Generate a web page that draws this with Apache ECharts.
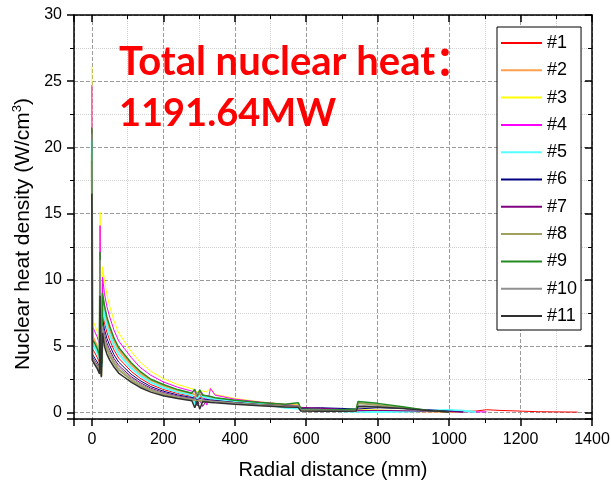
<!DOCTYPE html>
<html>
<head>
<meta charset="utf-8">
<script src="https://cdn.jsdelivr.net/npm/echarts@6/dist/echarts.min.js"></script>
<style>
  html, body { margin: 0; padding: 0; background: #fff; }
  #chart { width: 611px; height: 481px; }
</style>
</head>
<body>
<div id="chart"></div>
<script>
// Radial positions (mm) shared by all profiles
const radial = [0,1.5,8,15,21.5,23,24.5,26.5,28.5,30,35,42,50,62,75,90,110,135,165,200,240,280,288,295,302,310,322,332,345,400,470,540,578,585,640,700,740,745,800,870,940,1000,1040,1075,1105,1140,1250,1360];

// Nuclear heat density (W/cm3) per profile
const s1  = [14.0,4.8,4.5,4.15,3.75,9.5,5.3,3.3,3.15,7.6,6.8,6.05,5.45,4.7,4.1,3.67,3.1,2.58,2.1,1.73,1.43,1.21,1.17,1.05,1.15,1.1,1.05,1.0,0.95,0.8,0.62,0.5,0.45,0.2,0.18,0.14,0.12,0.12,0.1,0.08,0.07,0.06,0.07,0.1,0.2,0.15,0.05,0.02];
const s2  = [19.5,5.8,5.4,5.0,4.5,11.0,6.2,3.9,3.6,8.7,7.8,6.95,6.25,5.4,4.7,4.2,3.6,2.95,2.42,2.0,1.65,1.4,1.35,1.2,1.35,1.3,1.2,1.15,1.05,0.9,0.72,0.58,0.55,0.25,0.22,0.18,0.15,0.15,0.13,0.1,0.07,0.05,0.03,null,null,null,null,null];
const s3  = [26.1,7.0,6.6,6.1,5.5,15.1,8.0,4.9,4.6,11.0,10.0,8.9,8.0,6.9,6.0,5.4,4.6,3.8,3.1,2.55,2.1,1.78,1.72,1.5,1.65,1.6,1.55,1.85,1.35,1.05,0.8,0.6,0.55,0.3,0.28,0.22,0.2,0.2,0.18,0.12,0.08,0.05,0.03,null,null,null,null,null];
const s4  = [24.7,6.5,6.1,5.7,5.1,14.1,7.5,4.5,4.2,10.2,9.0,8.0,7.2,6.2,5.4,4.85,4.15,3.4,2.8,2.3,1.9,1.6,1.55,1.3,1.5,1.45,0.55,1.8,1.3,1.0,0.78,0.6,0.5,0.3,0.3,0.25,0.15,0.15,0.12,0.1,0.08,0.06,0.05,0.04,0.04,null,null,null];
const s5  = [20.5,5.2,4.9,4.5,4.1,10.5,5.8,3.6,3.4,8.2,7.3,6.5,5.85,5.05,4.4,3.95,3.35,2.78,2.27,1.86,1.53,1.3,0.6,1.1,1.25,1.2,1.1,1.05,1.0,0.85,0.68,0.35,0.3,0.2,0.15,0.08,0.05,0.05,0.03,0.05,0.12,0.18,0.12,0.02,null,null,null,null];
const s6  = [17.5,4.4,4.1,3.8,3.45,9.0,5.0,3.1,2.95,7.1,6.3,5.6,5.05,4.35,3.8,3.4,2.88,2.4,1.95,1.6,1.32,1.12,1.08,0.95,1.05,1.0,0.97,0.93,0.9,0.75,0.6,0.5,0.45,0.3,0.35,0.3,0.25,0.3,0.35,0.3,0.2,0.1,0.02,null,null,null,null,null];
const s7  = [17.0,4.2,3.9,3.6,3.25,9.0,4.8,2.95,2.8,6.7,5.9,5.25,4.72,4.07,3.55,3.18,2.7,2.25,1.83,1.5,1.24,1.05,1.0,0.5,0.95,0.45,0.9,0.88,0.85,0.72,0.58,0.48,0.45,0.38,0.32,0.2,0.12,0.12,0.15,0.12,0.08,0.05,0.03,null,null,null,null,null];
const s8  = [19.0,4.0,3.75,3.45,3.1,10.0,5.5,2.75,2.6,6.2,5.4,4.8,4.3,3.7,3.22,2.9,2.46,2.03,1.66,1.36,1.13,0.96,0.93,0.85,0.9,0.87,0.85,0.82,0.8,0.68,0.55,0.45,0.42,0.15,0.12,0.1,0.1,0.7,0.55,0.35,0.12,null,null,null,null,null,null,null];
const s9  = [21.5,5.5,5.2,4.8,4.3,12.1,6.5,3.9,3.7,9.0,8.1,7.2,6.5,5.6,4.9,4.4,3.75,3.1,2.5,2.1,1.72,1.45,1.75,1.2,1.7,1.3,1.25,1.2,1.1,0.92,0.75,0.62,0.72,0.25,0.22,0.2,0.25,0.83,0.68,0.42,0.15,0.04,null,null,null,null,null,null];
const s10 = [21.0,4.0,3.75,3.45,3.1,11.5,6.0,2.85,2.7,6.5,5.7,5.05,4.55,3.9,3.4,3.05,2.6,2.15,1.75,1.44,1.2,1.02,0.98,1.5,1.4,0.95,0.9,0.85,0.82,0.7,0.56,0.46,0.5,0.2,0.18,0.15,0.15,0.55,0.45,0.3,0.12,0.05,null,null,null,null,null,null];
const s11 = [16.5,3.9,3.6,3.3,2.9,8.8,4.5,2.65,2.6,6.0,5.0,4.4,3.95,3.42,2.97,2.67,2.28,1.88,1.53,1.26,1.04,0.88,0.35,0.85,0.25,0.8,0.78,0.75,0.72,0.62,0.5,0.4,0.38,0.1,0.08,0.08,0.1,0.45,0.4,0.3,0.15,0.03,null,null,null,null,null,null];

const seriesNames = ['#1','#2','#3','#4','#5','#6','#7','#8','#9','#10','#11'];
const seriesValues = [s1,s2,s3,s4,s5,s6,s7,s8,s9,s10,s11];
const colors = ['#ff0000','#ffa050','#ffff00','#ff00ff','#55ffff','#000080','#800080','#a0a060','#228b22','#909090','#303030'];
const widths = [1,2,1,1,2,1,1,2,1.5,1,1.5];

const titleLines = ['Total nuclear heat：', '1191.64MW'];

const chart = echarts.init(document.getElementById('chart'), null, { renderer: 'canvas' });

const series = seriesNames.map((name, k) => ({
  name: name,
  type: 'line',
  xAxisIndex: 0,
  yAxisIndex: 0,
  symbol: 'none',
  showSymbol: false,
  animation: false,
  lineStyle: { color: colors[k], width: widths[k] },
  itemStyle: { color: colors[k] },
  data: radial.map((x, i) => [x, seriesValues[k][i]]).filter(p => p[1] !== null)
}));

const axisFont = 'Liberation Sans';
const plainNum = v => String(v);

const option = {
  backgroundColor: '#ffffff',
  animation: false,
  grid: { left: 74, right: 19, top: 15, bottom: 62, containLabel: false, outerBoundsMode: 'none' },
  xAxis: [
    {
      type: 'value', position: 'bottom', min: -50, max: 1400, splitNumber: 7,
      name: 'Radial distance (mm)', nameLocation: 'middle', nameGap: 41,
      nameTextStyle: { fontSize: 20, fontFamily: axisFont, color: '#000' },
      axisLine: { show: true, onZero: false, lineStyle: { color: '#000', width: 1.5 } },
      axisTick: { show: true, inside: false, length: 7, lineStyle: { color: '#000', width: 1.5 } },
      minorTick: { show: true, splitNumber: 2, length: 4, lineStyle: { color: '#000', width: 1 } },
      axisLabel: { show: true, margin: 13, fontSize: 16, fontFamily: axisFont, color: '#000', showMinLabel: false, formatter: plainNum },
      splitLine: { show: true, lineStyle: { color: '#9a9a9a', width: 1, type: 'dashed' } },
      minorSplitLine: { show: true, lineStyle: { color: '#cfcfcf', width: 1, type: 'dotted' } }
    },
    {
      type: 'value', position: 'top', min: -50, max: 1400, splitNumber: 7,
      axisLine: { show: true, onZero: false, lineStyle: { color: '#000', width: 1.5 } },
      axisTick: { show: true, inside: true, length: 7, lineStyle: { color: '#000', width: 1.5 } },
      minorTick: { show: true, splitNumber: 2, length: 4, lineStyle: { color: '#000', width: 1 } },
      axisLabel: { show: false },
      splitLine: { show: false }
    }
  ],
  yAxis: [
    {
      type: 'value', position: 'left', min: -0.5, max: 30, splitNumber: 6,
      name: '{a|Nuclear heat density (W/cm}{s|3}{a|)}', nameLocation: 'middle', nameGap: 39,
      nameTextStyle: {
        color: '#000',
        padding: [0, 34, 0, 0],
        rich: {
          a: { fontSize: 21, fontFamily: axisFont, color: '#000', lineHeight: 23 },
          s: { fontSize: 13, fontFamily: axisFont, color: '#000', verticalAlign: 'top', lineHeight: 23 }
        }
      },
      axisLine: { show: true, onZero: false, lineStyle: { color: '#000', width: 1.5 } },
      axisTick: { show: true, inside: false, length: 7, lineStyle: { color: '#000', width: 1.5 } },
      minorTick: { show: true, splitNumber: 2, length: 4, lineStyle: { color: '#000', width: 1 } },
      axisLabel: { show: true, margin: 12, fontSize: 16, fontFamily: axisFont, color: '#000', showMinLabel: false, formatter: plainNum },
      splitLine: { show: true, lineStyle: { color: '#9a9a9a', width: 1, type: 'dashed' } },
      minorSplitLine: { show: true, lineStyle: { color: '#cfcfcf', width: 1, type: 'dotted' } }
    },
    {
      type: 'value', position: 'right', min: -0.5, max: 30, splitNumber: 6,
      axisLine: { show: true, onZero: false, lineStyle: { color: '#000', width: 1.5 } },
      axisTick: { show: true, inside: true, length: 7, lineStyle: { color: '#000', width: 1.5 } },
      minorTick: { show: true, splitNumber: 2, length: 4, lineStyle: { color: '#000', width: 1 } },
      axisLabel: { show: false },
      splitLine: { show: false }
    }
  ],
  legend: {
    show: true,
    orient: 'vertical',
    left: 497, top: 27,
    padding: [7, 4, 5, 3],
    itemWidth: 41, itemHeight: 14, itemGap: 9.3,
    backgroundColor: '#ffffff',
    borderColor: '#000', borderWidth: 1,
    itemStyle: { opacity: 0, borderWidth: 0 },
    textStyle: { fontSize: 18, fontFamily: axisFont, color: '#000' },
    data: seriesNames
  },
  graphic: [
    { type: 'text', left: 119, top: 42, z: 100,
      style: { text: titleLines[0], font: 'bold 40px Lato, "Noto Sans CJK SC", sans-serif', fill: '#ff0000' } },
    { type: 'text', left: 119, top: 95, z: 100,
      style: { text: titleLines[1], font: 'bold 38px Lato, sans-serif', fill: '#ff0000' } }
  ],
  series: series
};

chart.setOption(option);
</script>
</body>
</html>
